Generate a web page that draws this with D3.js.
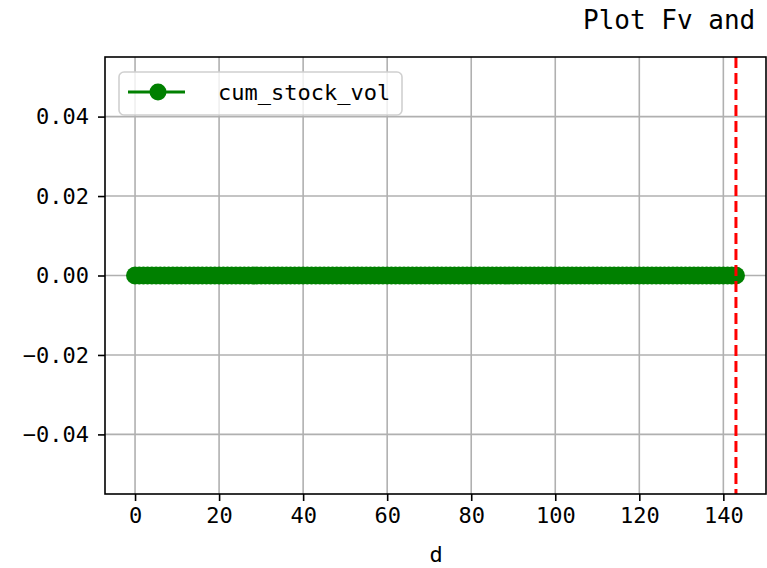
<!DOCTYPE html>
<html lang="en">
<head>
<meta charset="UTF-8">
<title>Plot Fv</title>
<script src="https://d3js.org/d3.v7.min.js"></script>
<style>
    body { margin: 0; background: #fff; }
    text { font-family: "DejaVu Sans Mono", monospace; fill: #000; }
</style>
</head>
<body>
<div id="chart"></div>
<script>
    // Data: cumulative stock volume per day d (all zero), marker line at last day
    const days = d3.range(0, 144);
    const cumStockVol = days.map(() => 0);
    const markerDay = 143;
    const xTicks = [0, 20, 40, 60, 80, 100, 120, 140];
    const yTicks = [-0.04, -0.02, 0.00, 0.02, 0.04];
    const titleText = 'Plot Fv and';
    const seriesName = 'cum_stock_vol';

    const width = 767, height = 568;
    const margin = { left: 105, right: 1, top: 57, bottom: 74 };

    const svg = d3.select('#chart').append('svg')
        .attr('width', width)
        .attr('height', height);

    const x = d3.scaleLinear().domain([-7.15, 150.15]).range([margin.left, width - margin.right]);
    const y = d3.scaleLinear().domain([-0.055, 0.055]).range([height - margin.bottom, margin.top]);

    // grid
    const grid = svg.append('g').attr('stroke', '#b0b0b0').attr('stroke-width', 1.6);
    grid.selectAll('.gx').data(xTicks).join('line')
        .attr('x1', d => x(d)).attr('x2', d => x(d))
        .attr('y1', margin.top).attr('y2', height - margin.bottom);
    grid.selectAll('.gy').data(yTicks).join('line')
        .attr('y1', d => y(d)).attr('y2', d => y(d))
        .attr('x1', margin.left).attr('x2', width - margin.right);

    // series
    const line = d3.line().x((d, i) => x(days[i])).y(d => y(d));
    svg.append('path')
        .datum(cumStockVol)
        .attr('fill', 'none')
        .attr('stroke', 'green')
        .attr('stroke-width', 3)
        .attr('d', line);
    svg.append('g').selectAll('circle')
        .data(cumStockVol)
        .join('circle')
        .attr('cx', (d, i) => x(days[i]))
        .attr('cy', d => y(d))
        .attr('r', 9)
        .attr('fill', 'green');

    // vertical dashed marker
    svg.append('line')
        .attr('x1', x(markerDay)).attr('x2', x(markerDay))
        .attr('y1', margin.top).attr('y2', height - margin.bottom)
        .attr('stroke', 'red')
        .attr('stroke-width', 3)
        .attr('stroke-dasharray', '11,5');

    // axes
    const xAxis = d3.axisBottom(x).tickValues(xTicks).tickSize(7).tickPadding(6).tickFormat(d3.format('d'));
    const yAxis = d3.axisLeft(y).tickValues(yTicks).tickSize(7).tickPadding(9).tickFormat(d3.format('.2f'));

    const gx = svg.append('g').attr('transform', `translate(0,${height - margin.bottom})`).call(xAxis);
    const gy = svg.append('g').attr('transform', `translate(${margin.left},0)`).call(yAxis);
    [gx, gy].forEach(g => {
        g.select('.domain').remove();
        g.selectAll('line').attr('stroke', '#000').attr('stroke-width', 1.6);
        g.selectAll('text').attr('font-size', 22).attr('font-family', '"DejaVu Sans Mono", monospace').attr('fill', '#000');
    });

    // frame
    svg.append('rect')
        .attr('x', margin.left).attr('y', margin.top)
        .attr('width', width - margin.right - margin.left)
        .attr('height', height - margin.bottom - margin.top)
        .attr('fill', 'none')
        .attr('stroke', '#000')
        .attr('stroke-width', 1.6);

    // axis label
    svg.append('text')
        .attr('x', 436)
        .attr('y', 562)
        .attr('text-anchor', 'middle')
        .attr('font-size', 22)
        .text('d');

    // title (cut off at the right edge)
    svg.append('text')
        .attr('x', 583)
        .attr('y', 29)
        .attr('font-size', 26)
        .text(titleText);

    // legend
    const lg = svg.append('g');
    lg.append('rect')
        .attr('x', 119).attr('y', 72)
        .attr('width', 283).attr('height', 43)
        .attr('rx', 5)
        .attr('fill', 'rgba(255,255,255,0.8)')
        .attr('stroke', '#d0d0d0')
        .attr('stroke-width', 1.6);
    lg.append('line')
        .attr('x1', 128).attr('x2', 185)
        .attr('y1', 92).attr('y2', 92)
        .attr('stroke', 'green').attr('stroke-width', 3);
    lg.append('circle')
        .attr('cx', 158).attr('cy', 92).attr('r', 8.5).attr('fill', 'green');
    lg.append('text')
        .attr('x', 218).attr('y', 100)
        .attr('font-size', 22)
        .text(seriesName);
</script>
</body>
</html>
